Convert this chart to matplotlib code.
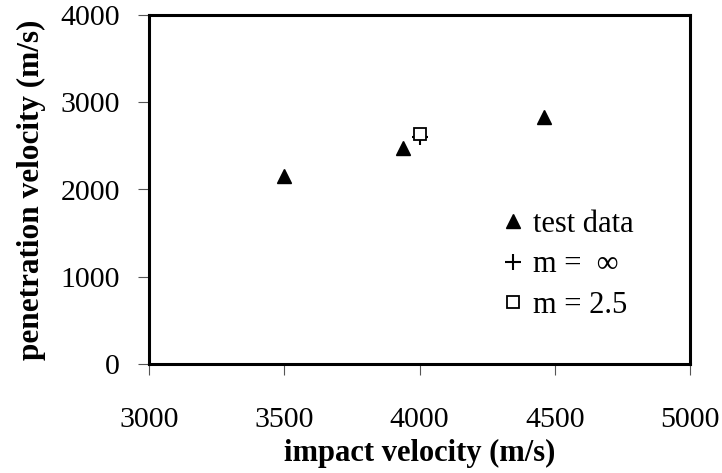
import matplotlib.pyplot as plt

plt.rcParams["font.family"] = ["Liberation Serif", "DejaVu Serif"]

# test data
test_impact = [3500, 3940, 4460]
test_pen = [2150, 2470, 2835]

# model predictions
inf_impact = [4000]
inf_pen = [2600]
m25_impact = [4000]
m25_pen = [2640]

x_ticks = [3000, 3500, 4000, 4500, 5000]
y_ticks = [0, 1000, 2000, 3000, 4000]

fig = plt.figure(figsize=(7.22, 4.73), dpi=100)
ax = fig.add_axes([149 / 722, 1 - 364 / 473, (690 - 149) / 722, (364 - 15) / 473])

ax.plot(test_impact, test_pen, linestyle="none", marker="^", color="black",
        markersize=9.5, label="test data")
ax.plot(inf_impact, inf_pen, linestyle="none", marker="+", color="black",
        markersize=12, markeredgewidth=1.5, label="m =  \u221e")
ax.plot(m25_impact, m25_pen, linestyle="none", marker="s", markerfacecolor="white",
        markeredgecolor="black", markersize=8, markeredgewidth=1.3, label="m = 2.5")

ax.set_xlim(3000, 5000)
ax.set_ylim(0, 4000)
ax.set_xticks(x_ticks)
ax.set_yticks(y_ticks)
ax.tick_params(direction="out", length=8, width=0.8, color="#555555",
               labelsize=21.5)
ax.tick_params(axis="x", pad=23)
ax.tick_params(axis="y", pad=13)
for s in ax.spines.values():
    s.set_linewidth(2.2)

ax.set_xlabel("impact velocity (m/s)", fontsize=22, fontweight="bold", labelpad=4)
ax.set_ylabel("penetration velocity (m/s)", fontsize=22.5, fontweight="bold", labelpad=10)

ax.legend(loc="upper left", bbox_to_anchor=(0.651, 0.441), frameon=False,
          fontsize=22, handlelength=0.8, handletextpad=0.25, labelspacing=0.37,
          borderpad=0, borderaxespad=0)

fig.savefig("out.png", dpi=100)
